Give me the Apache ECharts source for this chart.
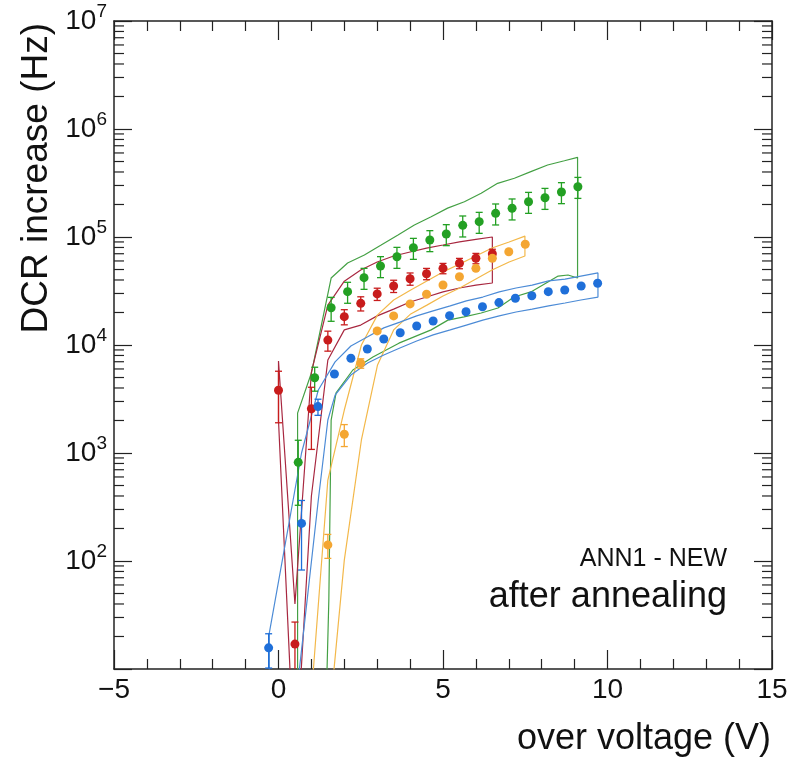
<!DOCTYPE html>
<html>
<head>
<meta charset="utf-8">
<script src="https://cdn.jsdelivr.net/npm/echarts@6/dist/echarts.min.js"></script>
<style>
html,body{margin:0;padding:0;background:#fff;}
#chart{width:792px;height:766px;}
</style>
</head>
<body>
<div id="chart"></div>
<script>
// ---------------- data ----------------
const greenX = [0.6,1.1,1.6,2.1,2.6,3.1,3.6,4.1,4.6,5.1,5.6,6.1,6.6,7.1,7.6,8.1,8.6,9.1];
const greenY = [820,4980,22100,31200,42000,53900,65700,79600,93800,106600,128300,138600,165700,184400,212200,231000,261000,292000];
const greenErr = [0.6,0.25,0.25,0.22,0.22,0.22,0.22,0.22,0.22,0.22,0.22,0.22,0.22,0.22,0.22,0.22,0.22,0.22];

const redX = [0,0.5,1,1.5,2,2.5,3,3.5,4,4.5,5,5.5,6,6.5];
const redY = [3810,17,2570,11100,18300,24300,29700,35200,41100,45700,51300,57100,63500,70000];
const redErr = [0.5,0.6,0.58,0.21,0.16,0.15,0.13,0.13,0.13,0.12,0.11,0.11,0.11,0.1];

const orangeX = [1.5,2,2.5,3,3.5,4,4.5,5,5.5,6,6.5,7,7.5];
const orangeY = [141,1490,6770,13500,18600,24000,29500,35900,42900,51300,63500,73100,85600];
const orangeErr = [0.25,0.23,0.1,0.05,0.04,0.03,0.03,0.03,0.03,0.03,0.03,0.03,0.03];

const blueX = [-0.3,0.7,1.2,1.7,2.2,2.7,3.2,3.7,4.2,4.7,5.2,5.7,6.2,6.7,7.2,7.7,8.2,8.7,9.2,9.7];
const blueY = [15.7,223,2690,5390,7530,9180,11370,13000,15000,16700,18700,20300,22600,24700,27100,28600,31200,32300,35200,37300];
const blueErr = [0.35,0.63,0.17,0.03,0.02,0.02,0.02,0.02,0.02,0.02,0.02,0.02,0.02,0.02,0.02,0.02,0.02,0.02,0.02,0.02];

// systematic bands: upper edge (left->right) and lower edge (right->left)
const greenBandUpper = [[0.58,1],[0.58,2340],[1.0,5500],[1.6,41700],[2.1,57400],[2.61,68100],[3.12,84300],[3.62,104000],[4.13,129000],[4.64,154000],[5.14,185000],[5.65,212000],[6.16,254000],[6.66,314000],[7.17,350000],[7.67,403000],[8.18,464000],[8.69,508000],[9.09,547000]];
const greenBandLower = [[9.09,41700],[8.8,44500],[8.5,43500],[8.19,38300],[7.67,31000],[7.16,27800],[6.67,22000],[6.16,19800],[5.64,18200],[5.15,17000],[4.64,13800],[3.66,10400],[2.87,7740],[2.26,5870],[1.75,3600],[1.6,2020],[1.53,43.5],[1.45,5]];

const redBandUpper = [[0,7100],[0.5,40],[1.0,5600],[1.5,23400],[2.0,39000],[2.5,49400],[3.0,58700],[3.5,66700],[4.0,72600],[4.5,79000],[5.0,84300],[5.5,90000],[6.0,94900],[6.5,100000]];
const redBandLower = [[6.5,37500],[6.0,35900],[5.5,33700],[5.0,31000],[4.5,27800],[4.0,25000],[3.5,21500],[3.0,18600],[2.5,15300],[2.0,13800],[1.5,7260],[1.0,400],[0.5,1],[0,2000]];

const orangeBandUpper = [[0.99,5.2],[1.5,562],[2.0,2500],[2.52,10000],[3.01,19000],[3.5,26100],[4.02,32300],[4.51,39200],[5.0,47500],[5.51,56200],[6.0,66700],[6.49,79000],[7.01,90000],[7.49,102000]];
const orangeBandLower = [[7.49,66700],[7.01,58700],[6.49,49400],[6.0,40800],[5.51,33700],[5.0,28400],[4.51,23400],[4.02,19400],[3.5,13800],[3.01,6530],[2.52,1320],[2.0,102],[1.6,5.2]];

const blueBandUpper = [[-0.28,21.5],[0.7,1000],[1.21,3830],[1.72,6970],[2.2,9790],[2.71,11900],[3.2,14400],[3.69,16300],[4.2,18600],[4.7,20700],[5.22,23000],[5.71,25600],[6.21,27800],[6.71,31000],[7.22,33700],[7.71,35900],[8.21,39200],[8.71,40800],[9.19,43500],[9.71,46500]];
const blueBandLower = [[9.71,27800],[9.19,26100],[8.71,24500],[8.21,23000],[7.71,21500],[7.22,20200],[6.71,18600],[6.21,17000],[5.71,15300],[5.22,13800],[4.7,12400],[4.2,10900],[3.69,9380],[3.2,8070],[2.71,6810],[2.2,5270],[1.72,3440],[1.5,2020],[1.21,367],[0.6,8],[-0.28,1]];

const xMin = -5, xMax = 15, xInterval = 5;
const yMin = 10, yMax = 1e7;
const titleX = 'over voltage (V)';
const titleY = 'DCR increase (Hz)';
const note1 = 'ANN1 - NEW';
const note2 = 'after annealing';

// ---------------- helpers ----------------
const FONT = '"Liberation Sans", Arial, Helvetica, sans-serif';
const AXIS_COLOR = '#222';

function band(up, low) { return up.concat(low, [up[0]]); }
function errData(xs, ys, er) { return xs.map((x, i) => [x, ys[i] * (1 - er[i]), ys[i] * (1 + er[i])]); }
function pts(xs, ys) { return xs.map((x, i) => [x, ys[i]]); }

// minor log ticks (2..9 per decade)
const minorY = [];
for (let d = 1; d < 7; d++) for (let k = 2; k <= 9; k++) minorY.push([xMin, k * Math.pow(10, d)]);

function errRender(color) {
  return function (params, api) {
    const x = api.value(0), lo = api.value(1), hi = api.value(2);
    const lo2 = Math.max(lo, yMin), hi2 = Math.min(hi, yMax);
    const pT = api.coord([x, hi2]), pB = api.coord([x, lo2]);
    const st = { stroke: color, lineWidth: 1.3 };
    const ch = [{ type: 'line', shape: { x1: pT[0], y1: pT[1], x2: pB[0], y2: pB[1] }, style: st }];
    const hw = 3.5;
    if (hi <= yMax) ch.push({ type: 'line', shape: { x1: pT[0] - hw, y1: pT[1], x2: pT[0] + hw, y2: pT[1] }, style: st });
    if (lo >= yMin) ch.push({ type: 'line', shape: { x1: pB[0] - hw, y1: pB[1], x2: pB[0] + hw, y2: pB[1] }, style: st });
    return { type: 'group', children: ch };
  };
}

function minorRender(params, api) {
  const v = api.value(1);
  const pL = api.coord([xMin, v]), pR = api.coord([xMax, v]);
  const st = { stroke: AXIS_COLOR, lineWidth: 1.2 };
  return { type: 'group', children: [
    { type: 'line', shape: { x1: pL[0], y1: pL[1], x2: pL[0] + 10, y2: pL[1] }, style: st },
    { type: 'line', shape: { x1: pR[0], y1: pR[1], x2: pR[0] - 10, y2: pR[1] }, style: st }
  ]};
}

const colors = { green: '#23a023', red: '#c81c1c', orange: '#f4a632', blue: '#1f6fd9' };
const bandColors = { green: '#44a044', red: '#a82840', orange: '#f3b84a', blue: '#4c8bd6' };

function bandSeries(data, color) {
  return { type: 'line', data: data, showSymbol: false, symbol: 'none', clip: true, z: 2,
    lineStyle: { color: color, width: 1.2 }, silent: true, animation: false };
}
function errSeries(data, color) {
  return { type: 'custom', data: data, renderItem: errRender(color), encode: { x: 0, y: [1, 2] }, z: 3, silent: true, clip: true, animation: false };
}
function ptSeries(data, color) {
  return { type: 'scatter', data: data, symbol: 'circle', symbolSize: 9, itemStyle: { color: color, opacity: 1 }, z: 4, clip: true, animation: false };
}

const chart = echarts.init(document.getElementById('chart'), null, { renderer: 'canvas' });

const xAxisCommon = {
  type: 'value', min: xMin, max: xMax, interval: xInterval,
  splitLine: { show: false },
  axisLine: { show: true, onZero: false, lineStyle: { color: AXIS_COLOR, width: 1.5 } },
  axisTick: { show: true, inside: true, length: 19, lineStyle: { color: AXIS_COLOR, width: 1.2 } },
  minorTick: { show: true, splitNumber: 5, length: 10, lineStyle: { color: AXIS_COLOR, width: 1.2 } },
  minorSplitLine: { show: false }
};
const yAxisCommon = {
  type: 'log', logBase: 10, min: yMin, max: yMax,
  splitLine: { show: false },
  axisLine: { show: true, onZero: false, lineStyle: { color: AXIS_COLOR, width: 1.5 } },
  axisTick: { show: true, inside: true, length: 18, lineStyle: { color: AXIS_COLOR, width: 1.2 } },
  minorTick: { show: false }
};

const option = {
  animation: false,
  backgroundColor: '#fff',
  grid: { left: 114, right: 20, top: 21, bottom: 97, containLabel: false },
  xAxis: [
    Object.assign({}, xAxisCommon, {
      position: 'bottom',
      axisLabel: { show: true, margin: 7, fontSize: 28, color: '#111', fontFamily: FONT,
        formatter: v => (v < 0 ? '\u2212' + Math.abs(v) : String(v)) }
    }),
    Object.assign({}, xAxisCommon, { position: 'top', axisLabel: { show: false } })
  ],
  yAxis: [
    Object.assign({}, yAxisCommon, {
      position: 'left',
      axisLabel: {
        show: true, margin: 7, color: '#111', fontFamily: FONT,
        formatter: function (v) {
          const e = Math.round(Math.log10(v));
          if (e <= 1) return '';
          return '{b|10}{s|' + e + '}';
        },
        rich: {
          b: { fontSize: 28, lineHeight: 38, fontFamily: FONT, color: '#111' },
          s: { fontSize: 19, lineHeight: 19, verticalAlign: 'top', fontFamily: FONT, color: '#111' }
        }
      }
    }),
    Object.assign({}, yAxisCommon, { position: 'right', axisLabel: { show: false } })
  ],
  series: [
    bandSeries(band(greenBandUpper, greenBandLower), bandColors.green),
    bandSeries(band(redBandUpper, redBandLower), bandColors.red),
    bandSeries(band(orangeBandUpper, orangeBandLower), bandColors.orange),
    bandSeries(band(blueBandUpper, blueBandLower), bandColors.blue),
    errSeries(errData(greenX, greenY, greenErr), colors.green),
    errSeries(errData(redX, redY, redErr), colors.red),
    errSeries(errData(orangeX, orangeY, orangeErr), colors.orange),
    errSeries(errData(blueX, blueY, blueErr), colors.blue),
    ptSeries(pts(greenX, greenY), colors.green),
    ptSeries(pts(redX, redY), colors.red),
    ptSeries(pts(orangeX, orangeY), colors.orange),
    ptSeries(pts(blueX, blueY), colors.blue),
    { type: 'custom', data: minorY, renderItem: minorRender, encode: { x: 0, y: 1 }, z: 5, silent: true, animation: false }
  ],
  graphic: [
    { type: 'text', x: 771, y: 739, z: 10,
      style: { text: titleX, font: '36px ' + FONT, fill: '#111', align: 'right', verticalAlign: 'middle' } },
    { type: 'text', x: 37, y: 23, rotation: Math.PI / 2, z: 10,
      style: { text: titleY, font: '37px ' + FONT, fill: '#111', align: 'right', verticalAlign: 'middle' } },
    { type: 'text', x: 727, y: 559, z: 10,
      style: { text: note1, font: '25px ' + FONT, fill: '#111', align: 'right', verticalAlign: 'middle' } },
    { type: 'text', x: 727, y: 597, z: 10,
      style: { text: note2, font: '36px ' + FONT, fill: '#111', align: 'right', verticalAlign: 'middle' } }
  ]
};
chart.setOption(option);
</script>
</body>
</html>
